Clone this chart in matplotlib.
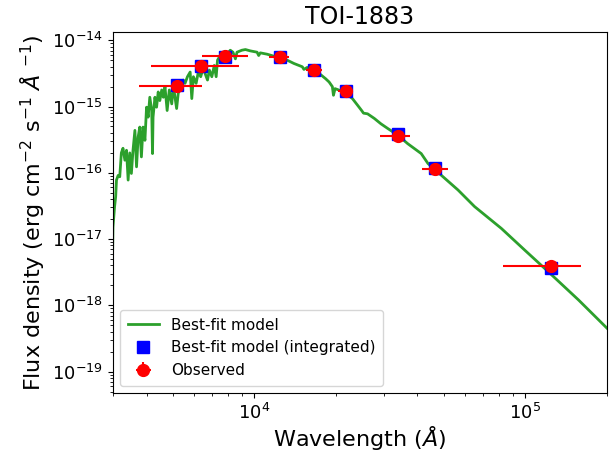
import numpy as np
import matplotlib
matplotlib.use("Agg")
import matplotlib.pyplot as plt

# Observed photometry
obs_wave = [5180, 6375, 7805, 12410, 16600, 21750, 34000, 46530, 124500]
obs_flux = [2.02e-15, 4.05e-15, 5.74e-15, 5.6e-15, 3.61e-15, 1.70e-15, 3.56e-16, 1.13e-16, 3.95e-18]
obs_xerr_lo = [1440, 2225, 1375, 1100, 1150, 1400, 4890, 4920, 41540]
obs_xerr_hi = [1230, 2371, 1639, 1000, 1240, 1300, 3660, 5350, 36400]
obs_yerr = [5e-17, 8e-17, 1e-16, 1e-16, 6e-17, 3e-17, 6e-18, 2e-18, 1e-19]

# Best-fit model integrated over the bands
int_flux = [2.1e-15, 4.1e-15, 5.6e-15, 5.5e-15, 3.6e-15, 1.72e-15, 3.8e-16, 1.18e-16, 3.6e-18]

# Best-fit model spectrum (log10 wavelength [A], log10 flux)
model_log_wave = [3.476, 3.477, 3.478, 3.484, 3.488, 3.491, 3.497, 3.503, 3.509, 3.515,
                  3.522, 3.528, 3.534, 3.540, 3.546, 3.552, 3.559, 3.565, 3.571, 3.577,
                  3.583, 3.589, 3.596, 3.602, 3.608, 3.614, 3.621, 3.624, 3.626, 3.633,
                  3.639, 3.645, 3.651, 3.658, 3.664, 3.670, 3.678, 3.686, 3.695, 3.701,
                  3.707, 3.713, 3.719, 3.728, 3.738, 3.744, 3.753, 3.763, 3.769, 3.775,
                  3.785, 3.793, 3.802, 3.812, 3.818, 3.827, 3.834, 3.843, 3.852, 3.859,
                  3.864, 3.874, 3.884, 3.896, 3.911, 3.921, 3.930, 3.936, 3.954, 3.967,
                  3.985, 4.010, 4.016, 4.022, 4.047, 4.072, 4.121, 4.146, 4.177, 4.183,
                  4.195, 4.239, 4.263, 4.276, 4.288, 4.292, 4.298, 4.331, 4.362, 4.381,
                  4.396, 4.403, 4.418, 4.443, 4.467, 4.492, 4.529, 4.566, 4.616, 4.641,
                  4.752, 4.813, 4.912, 4.999, 5.079, 5.197, 5.308]
model_log_flux = [-17.40, -17.12, -16.82, -16.51, -16.36, -16.11, -16.04, -16.06, -15.70, -15.63,
                  -15.81, -15.66, -16.11, -15.70, -16.01, -15.66, -15.36, -15.91, -15.46, -15.31,
                  -15.76, -15.31, -15.51, -15.01, -15.16, -14.86, -15.06, -15.71, -15.16, -14.86,
                  -15.01, -14.78, -14.91, -14.75, -14.86, -14.70, -15.06, -14.75, -14.96, -14.68,
                  -14.86, -15.03, -14.80, -14.70, -14.60, -14.65, -14.55, -14.48, -14.88, -14.55,
                  -14.65, -14.48, -14.55, -14.40, -14.50, -14.60, -14.45, -14.55, -14.38, -14.55,
                  -14.30, -14.23, -14.20, -14.23, -14.15, -14.18, -14.28, -14.18, -14.15, -14.14,
                  -14.16, -14.18, -14.23, -14.19, -14.21, -14.24, -14.30, -14.35, -14.40, -14.44,
                  -14.41, -14.50, -14.58, -14.63, -14.70, -14.83, -14.73, -14.78, -14.88, -14.98,
                  -15.06, -15.10, -15.11, -15.18, -15.26, -15.33, -15.43, -15.56, -15.71, -15.86,
                  -16.26, -16.51, -16.84, -17.17, -17.47, -17.92, -18.37]

model_wave = np.power(10.0, model_log_wave)
model_flux = np.power(10.0, model_log_flux)

fig = plt.figure(figsize=(6.16, 4.55), dpi=100)
ax = fig.add_axes([0.183, 0.1356, 0.802, 0.7944])

ax.plot(model_wave, model_flux, color="#2ca02c", lw=2.0, label="Best-fit model", zorder=1)
ax.plot(obs_wave, int_flux, "s", color="blue", ms=8.5, ls="none",
        label="Best-fit model (integrated)", zorder=2)
ax.errorbar(obs_wave, obs_flux, xerr=[obs_xerr_lo, obs_xerr_hi], yerr=obs_yerr,
            fmt="o", color="red", ms=8.5, elinewidth=1.5, label="Observed", zorder=3)

ax.set_xscale("log")
ax.set_yscale("log")
ax.set_xlim(3000, 2.0e5)
ax.set_ylim(4.7e-20, 1.34e-14)

ax.set_title("TOI-1883", fontsize=17)
ax.set_xlabel(r"Wavelength ($\AA$)", fontsize=16, labelpad=0.5)
ax.set_ylabel(r"Flux density (erg cm$^{-2}$ s$^{-1}$ $\AA$ $^{-1}$)", fontsize=16)
ax.tick_params(axis="both", which="major", labelsize=13)

ax.legend(loc="lower left", fontsize=11, handlelength=2.0, borderpad=0.5)

fig.savefig("out.png", dpi=100)
